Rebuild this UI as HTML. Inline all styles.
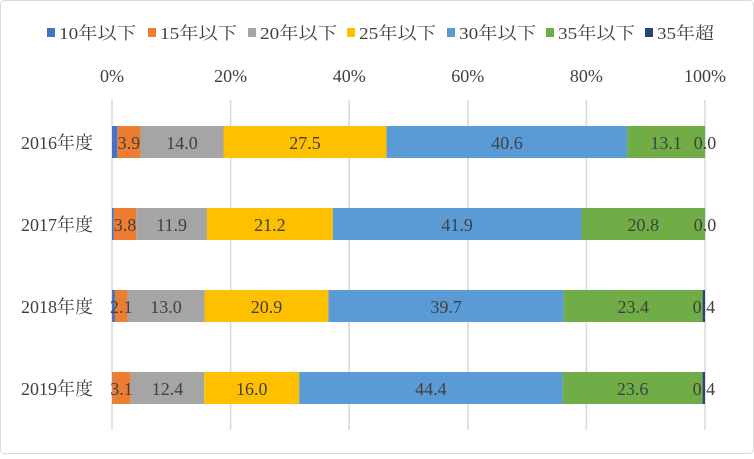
<!DOCTYPE html>
<html><head><meta charset="utf-8"><style>
html,body{margin:0;padding:0;background:#fff}
svg text{font-family:"Liberation Serif","Noto Serif CJK JP",serif;fill:#404040}
</style></head><body>
<svg id="c" width="754" height="454" xmlns="http://www.w3.org/2000/svg">
<rect x="0.5" y="0.5" width="753" height="453" rx="4" fill="#fff" stroke="#d9d9d9"/>
</svg>
<script>
const s=document.getElementById('c');const NS='http://www.w3.org/2000/svg';
function el(t,a,txt){const e=document.createElementNS(NS,t);for(const k in a)e.setAttribute(k,a[k]);if(txt!=null)e.textContent=txt;s.appendChild(e);return e;}
const cols=['#4472c4','#ed7d31','#a5a5a5','#ffc000','#5b9bd5','#70ad47','#264478'];
const names=['10年以下','15年以下','20年以下','25年以下','30年以下','35年以下','35年超'];
const lx=[47,148,248,347,447,546,645];
names.forEach((n,i)=>{el('rect',{x:lx[i],y:28,width:8,height:9,fill:cols[i]});el('text',{x:lx[i]+12,y:39,'font-size':17,textLength:n.length==5?77:57,lengthAdjust:'spacingAndGlyphs'},n);});
const x0=112,W=593;
for(let i=0;i<=5;i++){const x=x0+W*i/5;el('line',{x1:x,y1:100,x2:x,y2:430,stroke:'#d9d9d9','stroke-width':1.5});
el('text',{x:x,y:82,'font-size':18,'text-anchor':'middle'},(i*20)+'%');}
const data=[['2016年度',126,[0.9,3.9,14.0,27.5,40.6,13.1,0.0]],
['2017年度',208,[0.3,3.8,11.9,21.2,41.9,20.8,0.0]],
['2018年度',290,[0.5,2.1,13.0,20.9,39.7,23.4,0.4]],
['2019年度',372,[0.05,3.1,12.4,16.0,44.4,23.6,0.4]]];
data.forEach(([lab,y,v])=>{
 const tot=v.reduce((a,b)=>a+b,0);let cx=x0;
 el('text',{x:93,y:y+23,'font-size':18,'text-anchor':'end'},lab);
 const segs=[];
 v.forEach((val,i)=>{const w=W*val/tot;el('rect',{x:cx,y:y,width:w,height:32,fill:cols[i]});segs.push([cx,w]);cx+=w;});
 v.forEach((val,i)=>{if(i==0)return;const [sx,w]=segs[i];let tx=sx+w/2;
  el('text',{x:tx,y:y+23,'font-size':18,'text-anchor':'middle'},val.toFixed(1));});
});
</script>
</body></html>
